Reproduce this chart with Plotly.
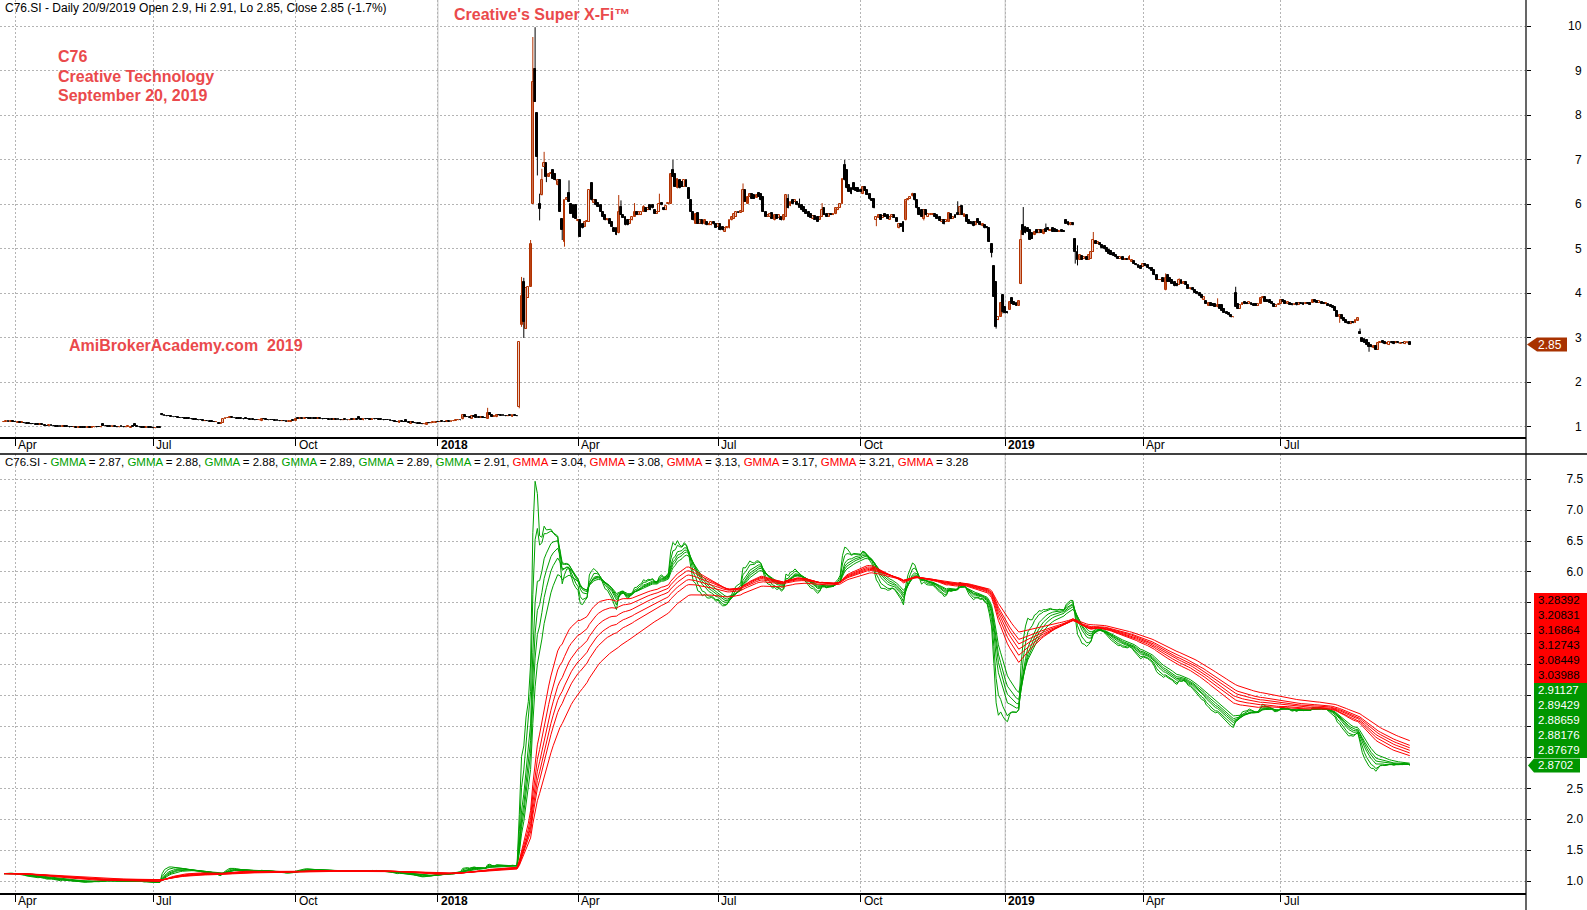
import numpy as np
import pandas as pd
import plotly.graph_objects as go

# ---------------- data ----------------
symbol = "C76.SI"
first_day, last_day = "2017-03-27", "2019-09-20"
sgx_holidays = ["2017-04-14", "2017-05-01", "2017-05-10", "2017-06-26", "2017-08-09", "2017-09-01",
                "2017-10-18", "2017-12-25", "2018-01-01", "2018-02-16", "2018-03-30", "2018-05-01",
                "2018-05-29", "2018-06-15", "2018-08-09", "2018-08-22", "2018-11-06", "2018-12-25",
                "2019-01-01", "2019-02-05", "2019-02-06", "2019-04-19", "2019-05-01", "2019-05-20",
                "2019-06-05", "2019-08-09", "2019-08-12"]

opens = [
    1.11, 1.12, 1.13, 1.12, 1.14, 1.12, 1.10, 1.11, 1.09, 1.10,
    1.08, 1.07, 1.07, 1.06, 1.06, 1.05, 1.05, 1.06, 1.05, 1.03,
    1.02, 1.04, 1.03, 1.02, 1.01, 1.00, 1.00, 1.02, 1.01, 1.00,
    0.99, 0.99, 1.00, 0.98, 0.99, 0.98, 0.98, 0.98, 0.99, 0.98,
    0.99, 1.00, 0.99, 0.99, 1.07, 1.03, 1.02, 1.01, 1.00, 1.01,
    1.00, 0.99, 1.00, 1.00, 0.99, 1.00, 0.98, 1.00, 1.07, 1.02,
    1.00, 0.99, 0.98, 0.98, 0.99, 0.98, 0.98, 0.97, 0.98, 0.98,
    1.30, 1.26, 1.25, 1.24, 1.24, 1.23, 1.22, 1.22, 1.21, 1.20,
    1.20, 1.19, 1.18, 1.18, 1.17, 1.16, 1.16, 1.15, 1.15, 1.13,
    1.14, 1.13, 1.12, 1.12, 1.11, 1.10, 1.07, 1.09, 1.18, 1.20,
    1.20, 1.22, 1.21, 1.20, 1.19, 1.18, 1.18, 1.19, 1.18, 1.17,
    1.16, 1.16, 1.15, 1.15, 1.13, 1.18, 1.17, 1.16, 1.15, 1.15,
    1.15, 1.14, 1.14, 1.13, 1.14, 1.13, 1.12, 1.11, 1.14, 1.14,
    1.18, 1.18, 1.19, 1.18, 1.21, 1.20, 1.19, 1.19, 1.18, 1.18,
    1.19, 1.18, 1.17, 1.17, 1.17, 1.16, 1.16, 1.17, 1.16, 1.16,
    1.15, 1.16, 1.16, 1.15, 1.16, 1.16, 1.17, 1.22, 1.17, 1.15,
    1.18, 1.17, 1.17, 1.16, 1.18, 1.17, 1.17, 1.16, 1.16, 1.15,
    1.15, 1.15, 1.14, 1.13, 1.12, 1.09, 1.13, 1.12, 1.15, 1.11,
    1.07, 1.12, 1.10, 1.08, 1.07, 1.07, 1.06, 1.05, 1.09, 1.08,
    1.09, 1.10, 1.11, 1.11, 1.12, 1.12, 1.11, 1.13, 1.12, 1.13,
    1.14, 1.15, 1.16, 1.17, 1.26, 1.22, 1.22, 1.19, 1.24, 1.26,
    1.21, 1.21, 1.22, 1.21, 1.19, 1.32, 1.26, 1.23, 1.22, 1.28,
    1.26, 1.25, 1.25, 1.24, 1.25, 1.23, 1.26, 1.25, 1.45, 3.30,
    4.26, 3.20, 3.90, 4.15, 6.02, 9.05, 8.05, 6.02, 6.20, 6.84,
    6.92, 6.62, 6.69, 6.77, 6.69, 6.43, 6.54, 5.68, 5.16, 6.10,
    6.26, 6.02, 5.98, 5.98, 5.62, 5.65, 5.55, 5.49, 5.61, 5.61,
    6.47, 6.03, 6.09, 6.03, 5.98, 5.83, 5.76, 5.64, 5.68, 5.60,
    5.46, 5.46, 5.35, 5.94, 5.76, 5.72, 5.64, 5.57, 5.64, 5.72,
    5.83, 5.76, 5.76, 5.83, 5.91, 5.87, 5.98, 5.98, 5.87, 5.79,
    5.83, 6.03, 5.91, 5.87, 6.00, 6.02, 6.77, 6.69, 6.36, 6.54,
    6.50, 6.39, 6.54, 6.36, 6.09, 5.83, 5.57, 5.80, 5.57, 5.64,
    5.55, 5.60, 5.53, 5.53, 5.60, 5.55, 5.50, 5.55, 5.50, 5.38,
    5.46, 5.46, 5.64, 5.68, 5.72, 5.83, 5.81, 5.83, 6.32, 6.02,
    6.17, 6.24, 6.21, 6.15, 6.26, 6.24, 6.17, 5.83, 5.72, 5.72,
    5.80, 5.64, 5.76, 5.70, 5.72, 5.64, 5.72, 6.13, 5.96, 6.09,
    6.06, 6.06, 6.02, 5.98, 5.94, 5.88, 5.83, 5.78, 5.68, 5.73,
    5.72, 5.66, 5.72, 5.91, 5.79, 5.72, 5.78, 5.76, 5.78, 5.87,
    5.93, 6.02, 6.88, 6.77, 6.43, 6.36, 6.47, 6.36, 6.36, 6.33,
    6.23, 6.39, 6.32, 6.23, 6.11, 6.11, 5.66, 5.70, 5.76, 5.70,
    5.79, 5.76, 5.66, 5.72, 5.76, 5.70, 5.46, 5.57, 5.61, 5.64,
    6.09, 6.13, 6.18, 6.23, 6.09, 5.93, 5.87, 5.68, 5.87, 5.72,
    5.76, 5.76, 5.78, 5.76, 5.72, 5.61, 5.64, 5.61, 5.61, 5.79,
    5.68, 5.76, 5.81, 5.76, 5.96, 5.72, 5.76, 5.64, 5.61, 5.61,
    5.53, 5.68, 5.61, 5.51, 5.53, 5.50, 5.46, 5.11, 4.61, 4.26,
    3.40, 3.48, 3.96, 3.70, 3.59, 3.63, 3.89, 3.81, 3.79, 3.72,
    4.21, 5.53, 5.50, 5.46, 5.42, 5.35, 5.31, 5.42, 5.35, 5.42,
    5.33, 5.44, 5.46, 5.41, 5.46, 5.44, 5.42, 5.38, 5.42, 5.41,
    5.66, 5.61, 5.53, 5.58, 5.23, 4.93, 4.75, 4.84, 4.78, 4.82,
    4.76, 4.78, 4.93, 5.18, 5.11, 5.14, 5.08, 5.06, 5.01, 4.97,
    4.96, 4.91, 4.86, 4.82, 4.78, 4.81, 4.76, 4.78, 4.75, 4.71,
    4.73, 4.67, 4.63, 4.61, 4.60, 4.67, 4.63, 4.58, 4.58, 4.52,
    4.41, 4.30, 4.30, 4.34, 4.07, 4.41, 4.34, 4.31, 4.26, 4.22,
    4.19, 4.30, 4.22, 4.26, 4.19, 4.09, 4.13, 4.07, 4.04, 4.01,
    3.96, 3.86, 3.83, 3.72, 3.79, 3.77, 3.76, 3.69, 3.74, 3.74,
    3.66, 3.59, 3.57, 3.51, 3.46, 4.00, 3.77, 3.66, 3.74, 3.81,
    3.79, 3.77, 3.79, 3.77, 3.76, 3.72, 3.77, 3.89, 3.91, 3.86,
    3.85, 3.81, 3.77, 3.70, 3.74, 3.77, 3.86, 3.83, 3.77, 3.79,
    3.77, 3.74, 3.79, 3.74, 3.79, 3.79, 3.76, 3.79, 3.79, 3.79,
    3.86, 3.83, 3.79, 3.81, 3.79, 3.76, 3.76, 3.74, 3.72, 3.70,
    3.61, 3.48, 3.51, 3.44, 3.40, 3.36, 3.31, 3.36, 3.34, 3.39,
    3.14, 2.99, 2.97, 2.95, 2.88, 2.84, 2.77, 2.82, 2.73, 2.89,
    2.94, 2.91, 2.86, 2.84, 2.91, 2.91, 2.88, 2.90, 2.87, 2.89,
    2.86, 2.88, 2.90,
]

closes = [
    1.12, 1.13, 1.12, 1.13, 1.12, 1.11, 1.11, 1.10, 1.11, 1.08,
    1.07, 1.07, 1.06, 1.06, 1.05, 1.05, 1.06, 1.05, 1.03, 1.02,
    1.04, 1.03, 1.02, 1.01, 1.00, 1.00, 1.03, 1.01, 1.00, 0.99,
    0.99, 1.00, 0.98, 0.99, 0.98, 0.98, 0.98, 0.99, 0.98, 0.99,
    1.00, 0.99, 0.99, 1.00, 1.03, 1.02, 1.01, 1.00, 1.02, 1.00,
    0.99, 1.00, 1.00, 0.99, 1.00, 1.01, 1.00, 1.00, 1.03, 1.00,
    0.99, 0.98, 0.98, 0.99, 0.98, 0.98, 0.97, 0.98, 0.98, 0.98,
    1.26, 1.25, 1.24, 1.24, 1.23, 1.22, 1.22, 1.21, 1.20, 1.20,
    1.19, 1.18, 1.18, 1.17, 1.16, 1.16, 1.15, 1.15, 1.13, 1.14,
    1.13, 1.12, 1.12, 1.11, 1.12, 1.07, 1.08, 1.18, 1.20, 1.21,
    1.22, 1.21, 1.20, 1.19, 1.18, 1.18, 1.17, 1.18, 1.17, 1.16,
    1.16, 1.15, 1.15, 1.16, 1.19, 1.17, 1.16, 1.15, 1.15, 1.15,
    1.14, 1.14, 1.13, 1.14, 1.13, 1.12, 1.13, 1.14, 1.14, 1.18,
    1.18, 1.19, 1.18, 1.21, 1.20, 1.19, 1.19, 1.18, 1.18, 1.19,
    1.18, 1.17, 1.17, 1.17, 1.16, 1.16, 1.17, 1.16, 1.16, 1.15,
    1.16, 1.16, 1.15, 1.16, 1.16, 1.17, 1.16, 1.17, 1.16, 1.18,
    1.17, 1.17, 1.16, 1.18, 1.17, 1.17, 1.16, 1.16, 1.15, 1.15,
    1.15, 1.14, 1.13, 1.12, 1.11, 1.13, 1.12, 1.11, 1.11, 1.10,
    1.12, 1.10, 1.08, 1.07, 1.07, 1.06, 1.07, 1.09, 1.08, 1.09,
    1.10, 1.11, 1.11, 1.12, 1.12, 1.11, 1.13, 1.12, 1.13, 1.14,
    1.15, 1.16, 1.15, 1.26, 1.22, 1.22, 1.20, 1.24, 1.23, 1.21,
    1.21, 1.22, 1.21, 1.20, 1.32, 1.28, 1.23, 1.24, 1.28, 1.26,
    1.25, 1.25, 1.24, 1.25, 1.25, 1.26, 1.25, 1.24, 2.90, 3.95,
    3.36, 4.12, 4.15, 5.12, 8.76, 8.30, 7.07, 5.90, 6.54, 6.92,
    6.62, 6.69, 6.70, 6.58, 6.54, 6.54, 5.83, 5.42, 6.10, 6.14,
    6.06, 5.79, 5.70, 5.68, 5.66, 5.27, 5.46, 5.60, 5.63, 6.32,
    6.09, 6.09, 5.98, 5.94, 5.83, 5.72, 5.64, 5.68, 5.57, 5.50,
    5.38, 5.31, 5.83, 5.76, 5.70, 5.53, 5.53, 5.64, 5.72, 5.83,
    5.76, 5.83, 5.83, 5.94, 5.83, 5.91, 5.87, 5.91, 5.79, 5.83,
    6.02, 5.98, 5.87, 5.96, 6.03, 6.69, 6.62, 6.39, 6.58, 6.36,
    6.39, 6.54, 6.39, 6.13, 5.83, 5.64, 5.79, 5.57, 5.66, 5.55,
    5.66, 5.53, 5.57, 5.60, 5.55, 5.48, 5.57, 5.42, 5.42, 5.46,
    5.50, 5.64, 5.72, 5.79, 5.83, 5.81, 5.85, 6.32, 6.06, 6.17,
    6.24, 6.13, 6.13, 6.22, 6.17, 6.09, 5.83, 5.72, 5.76, 5.79,
    5.68, 5.76, 5.68, 5.76, 5.64, 5.76, 6.21, 5.91, 6.06, 6.02,
    6.09, 5.98, 5.93, 5.87, 5.83, 5.79, 5.72, 5.70, 5.73, 5.66,
    5.61, 5.72, 5.88, 5.76, 5.72, 5.78, 5.76, 5.79, 5.91, 5.91,
    6.02, 6.58, 6.54, 6.36, 6.28, 6.23, 6.32, 6.30, 6.28, 6.28,
    6.39, 6.30, 6.21, 6.11, 6.08, 5.91, 5.72, 5.76, 5.66, 5.73,
    5.72, 5.68, 5.72, 5.76, 5.70, 5.61, 5.55, 5.50, 5.38, 6.09,
    6.13, 6.17, 6.23, 6.09, 5.91, 5.76, 5.72, 5.87, 5.76, 5.78,
    5.79, 5.78, 5.72, 5.68, 5.63, 5.64, 5.55, 5.64, 5.81, 5.67,
    5.72, 5.70, 5.76, 5.94, 5.76, 5.78, 5.61, 5.57, 5.55, 5.51,
    5.61, 5.58, 5.53, 5.57, 5.46, 5.46, 5.16, 4.90, 3.92, 3.25,
    3.48, 3.79, 3.59, 3.55, 3.55, 3.81, 3.77, 3.74, 3.72, 3.83,
    5.20, 5.31, 5.35, 5.38, 5.20, 5.23, 5.38, 5.35, 5.42, 5.36,
    5.42, 5.38, 5.42, 5.42, 5.38, 5.38, 5.38, 5.41, 5.38, 5.38,
    5.57, 5.53, 5.58, 5.53, 4.93, 4.75, 4.86, 4.76, 4.82, 4.76,
    4.86, 4.93, 5.20, 5.11, 5.15, 5.08, 5.01, 4.99, 4.93, 4.88,
    4.86, 4.84, 4.81, 4.78, 4.81, 4.76, 4.78, 4.76, 4.81, 4.75,
    4.67, 4.63, 4.58, 4.56, 4.66, 4.61, 4.58, 4.54, 4.51, 4.41,
    4.30, 4.31, 4.31, 4.26, 4.34, 4.26, 4.26, 4.22, 4.16, 4.16,
    4.30, 4.22, 4.26, 4.19, 4.11, 4.13, 4.07, 4.01, 3.98, 3.94,
    3.89, 3.91, 3.77, 3.79, 3.72, 3.72, 3.70, 3.74, 3.66, 3.61,
    3.57, 3.54, 3.51, 3.46, 3.47, 3.70, 3.66, 3.74, 3.79, 3.76,
    3.76, 3.81, 3.74, 3.72, 3.72, 3.76, 3.89, 3.91, 3.81, 3.81,
    3.79, 3.76, 3.70, 3.74, 3.77, 3.86, 3.81, 3.77, 3.80, 3.74,
    3.73, 3.77, 3.73, 3.79, 3.76, 3.75, 3.79, 3.76, 3.75, 3.86,
    3.80, 3.79, 3.82, 3.77, 3.76, 3.79, 3.72, 3.70, 3.67, 3.61,
    3.48, 3.51, 3.42, 3.39, 3.33, 3.31, 3.36, 3.33, 3.40, 3.44,
    3.09, 2.91, 2.89, 2.84, 2.80, 2.79, 2.82, 2.73, 2.89, 2.91,
    2.88, 2.86, 2.89, 2.90, 2.88, 2.86, 2.90, 2.88, 2.89, 2.88,
    2.90, 2.90, 2.85,
]

# extra wick extents (bar index -> value) where the shadow goes beyond the body
wick_high = {70: 1.31, 214: 1.43, 229: 4.37, 230: 4.35, 233: 5.20, 234: 9.76, 235: 9.98,
             237: 6.24, 238: 6.80, 239: 7.18, 250: 6.54, 272: 6.21, 273: 6.09, 279: 6.03,
             283: 5.98, 290: 6.24, 296: 7.00, 327: 6.47, 347: 6.23, 352: 6.13, 362: 6.03,
             372: 7.00, 402: 6.26, 422: 6.07, 450: 5.42, 451: 5.94, 461: 5.57, 475: 5.08,
             482: 5.38, 498: 4.86, 514: 4.45, 520: 4.34, 537: 3.89, 545: 4.15, 600: 3.21,
             622: 2.91}
wick_low = {228: 1.42, 229: 3.25, 230: 3.00, 236: 6.65, 237: 5.64, 240: 6.50, 247: 5.20,
            248: 5.05, 386: 5.51, 407: 5.64, 437: 4.81, 439: 3.21, 442: 3.55, 474: 4.67,
            475: 4.63, 591: 3.34, 604: 2.69}

short_periods = [3, 5, 8, 10, 12, 15]
long_periods = [30, 35, 40, 45, 50, 60]
short_last = [2.8702, 2.87679, 2.88176, 2.88659, 2.89429, 2.91127]
long_last = [3.03988, 3.08449, 3.12743, 3.16864, 3.20831, 3.28392]

price_ticks = [1, 2, 3, 4, 5, 6, 7, 8, 9, 10]
gmma_ticks = [1.0, 1.5, 2.0, 2.5, 3.0, 3.5, 4.0, 4.5, 5.0, 5.5, 6.0, 6.5, 7.0, 7.5]
quarter_labels = {4: "Apr", 7: "Jul", 10: "Oct"}

title_red = "Creative's Super X-Fi™"
info_lines = ["C76", "Creative Technology", "September 20, 2019"]
watermark = "AmiBrokerAcademy.com\u00a0\u00a02019"

# ---------------- styling ----------------
FONT = "Liberation Sans, Arial, sans-serif"
RED_TXT = "#ea4a4c"
UP = "#b23200"
GREEN = "#00a000"
GREEN_BOX = "#009600"
RED = "#ff0000"
GRID = "#b4b4b4"
W, H = 1587, 910
ML, MR, MT, MB = 0, 61, 0, 17
PW, PH = W - ML - MR, H - MT - MB
TOP_BOTTOM_PX, BOT_TOP_PX = 437, 454
MIN_BODY = 0.012  # minimum drawn body height (price units) so doji bars stay visible
ROW_PX = 15       # height of one value label row
Y2_RANGE = [0.806, 7.909]


def px_x(x):
    return (x - ML) / PW


def px_y(y):
    return (H - MB - y) / PH


dates = pd.bdate_range(first_day, last_day, freq="C", holidays=sgx_holidays)
n = min(len(dates), len(closes), len(opens))
dates = dates[-n:]
o = np.array(opens[:n], dtype=float)
c = np.array(closes[:n], dtype=float)
hi = np.maximum(o, c)
lo = np.minimum(o, c)
for k, v in wick_high.items():
    if k < n:
        hi[k] = max(hi[k], v)
for k, v in wick_low.items():
    if k < n:
        lo[k] = min(lo[k], v)
xs = [d.strftime("%Y-%m-%d") for d in dates]

# quarter ticks: first trading day of each quarter
tick_x, tick_txt, year_x = [], [], []
for i in range(1, n):
    d, p = dates[i], dates[i - 1]
    if d.month != p.month and d.month in (1, 4, 7, 10):
        tick_x.append(xs[i])
        if d.month == 1:
            tick_txt.append(f"<b>{d.year}</b>")
            year_x.append(xs[i])
        else:
            tick_txt.append(quarter_labels[d.month])

fig = go.Figure()

# candles: wicks as line segments, bodies as bars
up_mask = c > o
for mask, col in ((up_mask, UP), (~up_mask, "black")):
    wx, wy = [], []
    for i in np.where(mask)[0]:
        wx += [xs[i], xs[i], xs[i]]
        wy += [lo[i], hi[i], None]
    fig.add_trace(go.Scatter(x=wx, y=wy, mode="lines", line=dict(color=col, width=1),
                             hoverinfo="skip", connectgaps=False, xaxis="x", yaxis="y"))
body_lo = np.minimum(o, c)
body_h = np.maximum(np.abs(c - o), MIN_BODY)
for mask, fill, col in ((up_mask, "white", UP), (~up_mask, "black", "black")):
    idx = np.where(mask)[0]
    fig.add_trace(go.Bar(x=[xs[i] for i in idx], base=body_lo[idx], y=body_h[idx], width=0.85,
                         marker=dict(color=fill, line=dict(color=col, width=1)),
                         hoverinfo="skip", xaxis="x", yaxis="y"))

cs = pd.Series(c)
for per in short_periods:
    fig.add_trace(go.Scatter(x=xs, y=cs.ewm(span=per, adjust=False).mean(), mode="lines",
                             line=dict(color=GREEN, width=1), hoverinfo="skip",
                             xaxis="x2", yaxis="y2"))
for per in long_periods:
    fig.add_trace(go.Scatter(x=xs, y=cs.ewm(span=per, adjust=False).mean(), mode="lines",
                             line=dict(color=RED, width=1), hoverinfo="skip",
                             xaxis="x2", yaxis="y2"))

# axis ranges from pixel calibration
bar_px = 2.26
first_bar_px = 4
xr = [(0 - first_bar_px) / bar_px, (PW - first_bar_px) / bar_px]
top_dom = [px_y(TOP_BOTTOM_PX), 1.0]
bot_dom = [0.0, px_y(BOT_TOP_PX)]

# value-label stack on the lower pane covers some of the axis labels (as in AmiBroker)
anchor_v = short_last[0]
all_last = short_last + long_last
px_per_unit = (bot_dom[1] - bot_dom[0]) * PH / (Y2_RANGE[1] - Y2_RANGE[0])
cover_lo = anchor_v - (ROW_PX / 2) / px_per_unit
cover_hi = anchor_v + (ROW_PX * (len(all_last) - 0.5)) / px_per_unit
gmma_ticktext = ["" if cover_lo < t < cover_hi else f"{t:.1f}" for t in gmma_ticks]

xcommon = dict(type="category", categoryorder="array", categoryarray=xs, range=xr,
               tickvals=tick_x, showticklabels=False, ticks="outside", ticklen=7,
               tickcolor="black", tickwidth=1, showgrid=True, gridcolor=GRID, griddash="2px,2px",
               gridwidth=1, showline=True, linecolor="black", linewidth=1.5, zeroline=False,
               fixedrange=True)
fig.update_layout(
    width=W, height=H, margin=dict(l=ML, r=MR, t=MT, b=MB),
    paper_bgcolor="white", plot_bgcolor="white", showlegend=False, hovermode=False,
    barmode="overlay", bargap=0,
    font=dict(family=FONT, size=12, color="black"),
    xaxis=dict(**xcommon, anchor="y", domain=[0, 1]),
    xaxis2=dict(**xcommon, anchor="y2", domain=[0, 1], matches="x"),
    yaxis=dict(domain=top_dom, range=[0.775, 10.591], side="right", tickvals=price_ticks,
               showticklabels=False, ticks="outside", ticklen=4, tickcolor="black",
               showgrid=True, gridcolor=GRID, griddash="2px,2px", zeroline=False,
               showline=False, fixedrange=True),
    yaxis2=dict(domain=bot_dom, range=Y2_RANGE, side="right", tickvals=gmma_ticks,
                ticktext=gmma_ticktext, ticks="outside", ticklen=4, tickcolor="black",
                ticklabelstandoff=33, tickfont=dict(family=FONT, size=12, color="black"),
                showgrid=True, gridcolor=GRID, griddash="2px,2px", zeroline=False,
                showline=False, fixedrange=True),
)

shapes = []
# solid year separators
for yx in year_x:
    for yref in ("y domain", "y2 domain"):
        shapes.append(dict(type="line", xref="x", yref=yref, x0=yx, x1=yx, y0=0, y1=1,
                           line=dict(color="#c4c4c4", width=1), layer="below"))
# right axis line, full height
shapes.append(dict(type="line", xref="paper", yref="paper", x0=1, x1=1, y0=px_y(H), y1=1,
                   line=dict(color="black", width=1.2), layer="above"))
# top border of lower pane
shapes.append(dict(type="line", xref="paper", yref="paper", x0=0, x1=px_x(W), y0=bot_dom[1],
                   y1=bot_dom[1], line=dict(color="black", width=1.5), layer="above"))
# last price marker (top pane)
PRICE_BOX = "#a83200"
shapes.append(dict(type="path", xref="paper", xsizemode="pixel", xanchor=1,
                   yref="y", ysizemode="pixel", yanchor=float(c[-1]),
                   path="M 1 0 L 11 7 L 41 7 L 41 -7 L 11 -7 Z",
                   fillcolor=PRICE_BOX, line=dict(width=0), layer="above"))
# GMMA value boxes
shapes.append(dict(type="rect", xref="paper", xsizemode="pixel", xanchor=1,
                   yref="y2", ysizemode="pixel", yanchor=anchor_v,
                   x0=8, x1=MR, y0=ROW_PX / 2, y1=ROW_PX / 2 + ROW_PX * 5,
                   fillcolor=GREEN_BOX, line=dict(width=0), layer="above"))
shapes.append(dict(type="rect", xref="paper", xsizemode="pixel", xanchor=1,
                   yref="y2", ysizemode="pixel", yanchor=anchor_v,
                   x0=8, x1=MR, y0=ROW_PX / 2 + ROW_PX * 5, y1=ROW_PX / 2 + ROW_PX * 11,
                   fillcolor=RED, line=dict(width=0), layer="above"))
shapes.append(dict(type="path", xref="paper", xsizemode="pixel", xanchor=1,
                   yref="y2", ysizemode="pixel", yanchor=anchor_v,
                   path="M 2 0 L 8 7 L 54 7 L 54 -7 L 8 -7 Z",
                   fillcolor=GREEN_BOX, line=dict(width=0), layer="above"))
fig.update_layout(shapes=shapes)

ann = []
# x labels
for tx, tt in zip(tick_x, tick_txt):
    for xref, yb in (("x", top_dom[0]), ("x2", bot_dom[0])):
        ann.append(dict(x=tx, y=yb, xref=xref, yref="paper", text=tt, showarrow=False,
                        xanchor="left", yanchor="middle", xshift=1, yshift=-8,
                        font=dict(family=FONT, size=12, color="black")))
# top price labels (right aligned)
for t in price_ticks:
    ann.append(dict(x=px_x(1584), y=t, xref="paper", yref="y", text=str(t), showarrow=False,
                    xanchor="right", yanchor="middle",
                    font=dict(family=FONT, size=12, color="black")))
# last price text
ann.append(dict(x=px_x(PW + 11), y=float(c[-1]), xref="paper", yref="y",
                text=f"{c[-1]:g}", showarrow=False, xanchor="left", yanchor="middle",
                borderpad=0, font=dict(family=FONT, size=12, color="white")))
# GMMA box texts
for k, v in enumerate(all_last):
    ann.append(dict(x=px_x(PW + 11), y=anchor_v, xref="paper", yref="y2", yshift=ROW_PX * k,
                    text=f"{v:.5f}".rstrip("0"), showarrow=False, xanchor="left",
                    yanchor="middle", borderpad=0,
                    font=dict(family=FONT, size=11.5, color="white" if k < 6 else "black")))
# header
d_last = dates[-1]
chg = (c[-1] / c[-2] - 1) * 100
header = (f"{symbol} - Daily {d_last.day}/{d_last.month}/{d_last.year} Open {o[-1]:g}, "
          f"Hi {hi[-1]:g}, Lo {lo[-1]:g}, Close {c[-1]:g} ({chg:.1f}%)")
ann.append(dict(x=px_x(3), y=px_y(8), xref="paper", yref="paper", text=header, showarrow=False,
                xanchor="left", yanchor="middle", font=dict(family=FONT, size=12, color="black")))
# GMMA legend line
parts = []
for v in short_last:
    parts.append(f'<span style="color:{GREEN}">GMMA</span> = {v:.2f}')
for v in long_last:
    parts.append(f'<span style="color:{RED}">GMMA</span> = {v:.2f}')
ann.append(dict(x=px_x(3), y=px_y(462), xref="paper", yref="paper",
                text=f"{symbol} - " + ", ".join(parts), showarrow=False,
                xanchor="left", yanchor="middle",
                font=dict(family=FONT, size=11.5, color="black")))
# red texts
ann.append(dict(x=px_x(452), y=px_y(15), xref="paper", yref="paper", text=f"<b>{title_red}</b>",
                showarrow=False, xanchor="left", yanchor="middle",
                font=dict(family=FONT, size=16, color=RED_TXT)))
for j, line in enumerate(info_lines):
    ann.append(dict(x=px_x(56), y=px_y(57 + 19 * j), xref="paper", yref="paper",
                    text=f"<b>{line}</b>", showarrow=False, xanchor="left", yanchor="middle",
                    font=dict(family=FONT, size=16, color=RED_TXT)))
ann.append(dict(x=px_x(67), y=px_y(345), xref="paper", yref="paper", text=f"<b>{watermark}</b>",
                showarrow=False, xanchor="left", yanchor="middle",
                font=dict(family=FONT, size=16, color=RED_TXT)))
fig.update_layout(annotations=ann)

fig.write_html("out.html", config={"displayModeBar": False},
               post_script="document.body.style.margin='0px';document.body.style.overflow='hidden';")
